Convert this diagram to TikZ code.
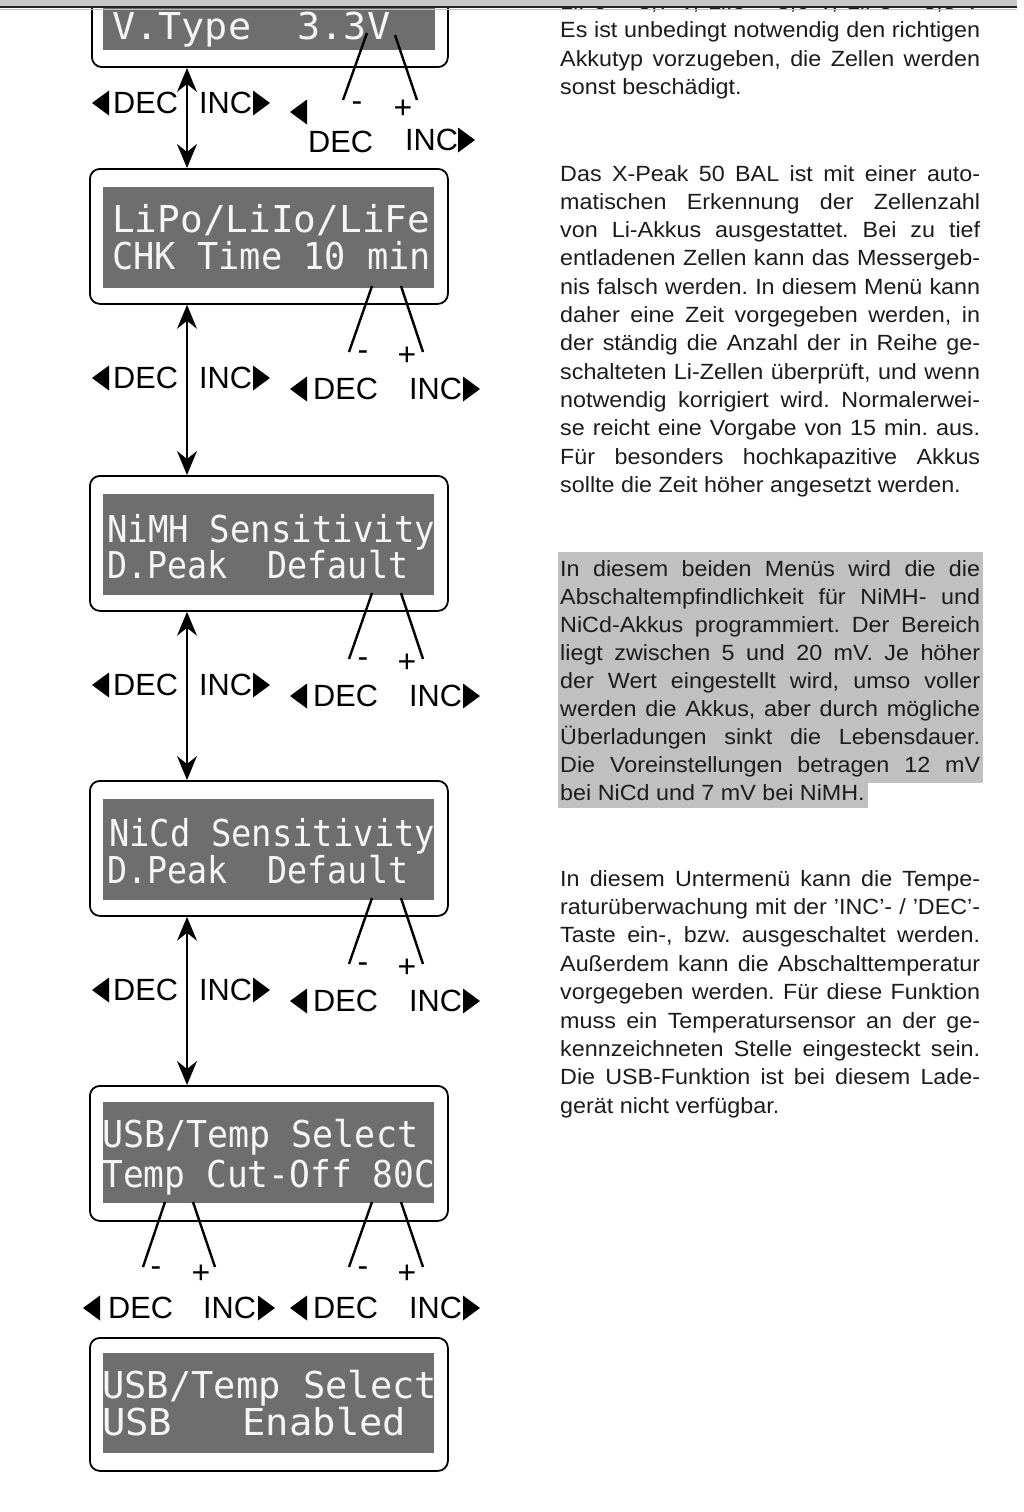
\documentclass[tikz,border=0pt]{standalone}
\usepackage{fontspec}
\usepackage{graphicx}
\setmainfont{Liberation Sans}
\newfontfamily\bodyfont[FakeStretch=1.06]{Liberation Sans}
\newfontfamily\lcdfont{DejaVu Sans Mono}
\usetikzlibrary{arrows.meta}
\definecolor{lcdgray}{RGB}{110,110,110}
\definecolor{hlgray}{RGB}{192,192,192}
\definecolor{bodytxt}{RGB}{28,28,28}
\definecolor{bargray}{RGB}{200,200,200}
\newcommand\lcdtxt[2]{\resizebox{#1}{\height}{\lcdfont\fontsize{37}{37}\selectfont #2}}
\newcommand\jline[1]{\makebox[420pt][s]{#1}}
\newcommand\ltri[2]{\fill[black] (#1,#2-12.5) -- (#1,#2+12.5) -- (#1-17,#2) -- cycle;}
\newcommand\rtri[2]{\fill[black] (#1,#2-12.5) -- (#1,#2+12.5) -- (#1+17,#2) -- cycle;}
\begin{document}
\frenchspacing
\begin{tikzpicture}[x=1pt,y=-1pt,
  outer/.style={draw=black, line width=1.8pt, rounded corners=10pt, fill=white, inner sep=0pt, anchor=north west},
  lcd/.style={fill=lcdgray, inner sep=0pt, outer sep=0pt, anchor=north west},
  lcdline/.style={anchor=base west, inner sep=0pt, text=white!96!black},
  body/.style={anchor=base west, inner sep=0pt, text=bodytxt, font=\bodyfont\fontsize{22}{28}\selectfont},
  key/.style={anchor=west, inner sep=0pt, font=\fontsize{30.7}{31}\selectfont},
  sign/.style={anchor=base, inner sep=0pt, font=\fontsize{32}{32}\selectfont},
  leader/.style={line width=2.4pt},
  nav/.style={line width=1.5pt, {Stealth[length=24pt,width=20pt,inset=8pt]}-{Stealth[length=24pt,width=20pt,inset=8pt]}}
]
\useasboundingbox (0,0) rectangle (1024,1512);
\fill[white] (0,0) rectangle (1024,1512);
\coordinate (ax) at (187,0);

% ---------- Box 1 (cut at top)
\node[outer, anchor=south west, minimum width=356pt, minimum height=128pt] (b1) at (91,68) {};
\node[lcd, anchor=south west, minimum width=332pt, minimum height=90pt] (l1) at (103,50) {};
\node[lcdline] (t1a) at (112,40) {\lcdtxt{278pt}{V.Type~~3.3V}};
\coordinate (ma1) at (367,33); \coordinate (mb1) at (343,100);
\coordinate (pa1) at (395,35); \coordinate (pb1) at (417,100);
\draw[leader] (ma1) -- (mb1);
\draw[leader] (pa1) -- (pb1);
\node[sign] (ms1) at (357,111) {-};
\node[sign] (ps1) at (403,118) {+};
\node[key] (dl1) at (113,103) {DEC};
\node[key] (il1) at (199,103) {INC};
\ltri{109}{103} \rtri{253}{103}
\ltri{307}{112}
\node[key] (dr1) at (308,142) {DEC};
\node[key] (ir1) at (405,140) {INC};
\rtri{458}{140}

% ---------- Boxes 2,3,4
\foreach \n/\dy in {2/0,3/307,4/612}{
  \node[outer, minimum width=358pt, minimum height=135pt] (b\n) at (89,168+\dy) {};
  \node[lcd, minimum width=331pt, minimum height=101pt] (l\n) at (103,187+\dy) {};
  \coordinate (ma\n) at (372,286+\dy); \coordinate (mb\n) at (349,352+\dy);
  \coordinate (pa\n) at (401,286+\dy); \coordinate (pb\n) at (423,352+\dy);
  \draw[leader] (ma\n) -- (mb\n);
  \draw[leader] (pa\n) -- (pb\n);
  \node[sign] (ms\n) at (363,360+\dy) {-};
  \node[sign] (ps\n) at (407,365+\dy) {+};
  \node[key] (dl\n) at (113,378+\dy) {DEC};
  \node[key] (il\n) at (199,378+\dy) {INC};
  \ltri{109}{378+\dy} \rtri{253}{378+\dy}
  \node[key] (dr\n) at (313,389+\dy) {DEC};
  \node[key] (ir\n) at (409,389+\dy) {INC};
  \ltri{307}{389+\dy} \rtri{463}{389+\dy}
}
\node[lcdline] (t2a) at (112,232) {\lcdtxt{318pt}{LiPo/LiIo/LiFe}};
\node[lcdline] (t2b) at (112,269) {\lcdtxt{319pt}{CHK Time 10 min}};
\node[lcdline] (t3a) at (107,542) {\lcdtxt{328pt}{NiMH Sensitivity}};
\node[lcdline] (t3b) at (107,578) {\lcdtxt{301pt}{D.Peak~~Default}};
\node[lcdline] (t4a) at (109,846) {\lcdtxt{326pt}{NiCd Sensitivity}};
\node[lcdline] (t4b) at (107,883) {\lcdtxt{301pt}{D.Peak~~Default}};

% ---------- Box 5
\node[outer, minimum width=358pt, minimum height=135pt] (b5) at (89,1085) {};
\node[lcd, minimum width=331pt, minimum height=101pt] (l5) at (103,1102) {};
\node[lcdline] (t5a) at (102,1147) {\lcdtxt{316pt}{USB/Temp Select}};
\node[lcdline] (t5b) at (102,1187) {\lcdtxt{333pt}{Temp Cut-Off 80C}};
\coordinate (ma5) at (165,1202); \coordinate (mb5) at (143,1267);
\coordinate (pa5) at (193,1202); \coordinate (pb5) at (215,1267);
\coordinate (mc5) at (372,1202); \coordinate (md5) at (349,1267);
\coordinate (pc5) at (401,1202); \coordinate (pd5) at (423,1267);
\draw[leader] (ma5) -- (mb5);
\draw[leader] (pa5) -- (pb5);
\draw[leader] (mc5) -- (md5);
\draw[leader] (pc5) -- (pd5);
\node[sign] (ms5) at (156,1276) {-};
\node[sign] (ps5) at (201,1283) {+};
\node[sign] (ms5r) at (363,1276) {-};
\node[sign] (ps5r) at (407,1283) {+};
\node[key] (dl5) at (108,1308) {DEC};
\node[key] (il5) at (203,1308) {INC};
\ltri{100}{1308} \rtri{258}{1308}
\node[key] (dr5) at (313,1308) {DEC};
\node[key] (ir5) at (409,1308) {INC};
\ltri{307}{1308} \rtri{463}{1308}

% ---------- Box 6
\node[outer, minimum width=358pt, minimum height=133pt] (b6) at (89,1337) {};
\node[lcd, minimum width=331pt, minimum height=100pt] (l6) at (103,1353) {};
\node[lcdline] (t6a) at (102,1398) {\lcdtxt{335pt}{USB/Temp Select}};
\node[lcdline] (t6b) at (102,1435) {\lcdtxt{304pt}{USB~~~Enabled}};

% ---------- navigation arrows
\draw[nav] (b1.south -| ax) -- (b2.north -| ax);
\draw[nav] (b2.south -| ax) -- (b3.north -| ax);
\draw[nav] (b3.south -| ax) -- (b4.north -| ax);
\draw[nav] (b4.south -| ax) -- (b5.north -| ax);

% ---------- Right-hand text
\foreach \t [count=\i from 0] in {{LiPo = 3,7 V, LiIo = 3,6 V, LiFe = 3,3 V},{Es ist unbedingt notwendig den richtigen},{Akkutyp vorzugeben, die Zellen werden}}
  \node[body] (pa\i) at (560,9.5+\i*28.3) {\jline{\t}};
\node[body] (pa3) at (560,94.4) {sonst beschädigt.};

\foreach \t [count=\i from 0] in {{Das X-Peak 50 BAL ist mit einer auto-},{matischen Erkennung der Zellenzahl},{von Li-Akkus ausgestattet. Bei zu tief},{entladenen Zellen kann das Messergeb-},{nis falsch werden. In diesem Menü kann},{daher eine Zeit vorgegeben werden, in},{der ständig die Anzahl der in Reihe ge-},{schalteten Li-Zellen überprüft, und wenn},{notwendig korrigiert wird. Normalerwei-},{se reicht eine Vorgabe von 15 min. aus.},{Für besonders hochkapazitive Akkus}}
  \node[body] (pq\i) at (560,181+\i*28.3) {\jline{\t}};
\node[body] (pq11) at (560,492.3) {sollte die Zeit höher angesetzt werden.};

\fill[hlgray] (558,552) rectangle (983,783);
\fill[hlgray] (558,783) rectangle (868,808);
\foreach \t [count=\i from 0] in {{In diesem beiden Menüs wird die die},{Abschaltempfindlichkeit für NiMH- und},{NiCd-Akkus programmiert. Der Bereich},{liegt zwischen 5 und 20 mV. Je höher},{der Wert eingestellt wird, umso voller},{werden die Akkus, aber durch mögliche},{Überladungen sinkt die Lebensdauer.},{Die Voreinstellungen betragen 12 mV}}
  \node[body] (pr\i) at (560,576+\i*28) {\jline{\t}};
\node[body] (pr8) at (560,800) {bei NiCd und 7 mV bei NiMH.};

\foreach \t [count=\i from 0] in {{In diesem Untermenü kann die Tempe-},{raturüberwachung mit der ’INC’- / ’DEC’-},{Taste ein-, bzw. ausgeschaltet werden.},{Außerdem kann die Abschalttemperatur},{vorgegeben werden. Für diese Funktion},{muss ein Temperatursensor an der ge-},{kennzeichneten Stelle eingesteckt sein.},{Die USB-Funktion ist bei diesem Lade-}}
  \node[body] (ps\i) at (560,886+\i*28.4) {\jline{\t}};
\node[body] (ps8) at (560,1113.2) {gerät nicht verfügbar.};

% ---------- top window bar
\fill[bargray] (0,0) rectangle (1017,6);
\draw[line width=1.6pt, black!85] (0,7) -- (1017,7);
\draw[line width=1pt, black!25] (0,9.2) -- (1017,9.2);
\end{tikzpicture}
\end{document}
